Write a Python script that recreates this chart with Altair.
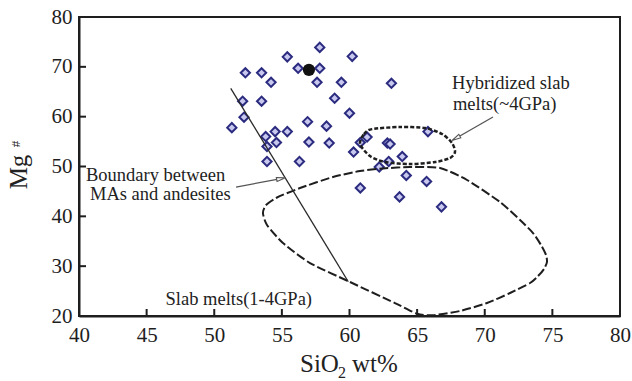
import altair as alt
import pandas as pd

# Whole-rock compositions: SiO2 (wt%) and Mg#
sio2 = [57.8, 55.4, 60.2, 56.2, 57.8, 52.3, 53.5, 54.2, 57.6, 59.4,
        63.1, 58.9, 52.1, 53.5, 52.2, 60.0, 51.3, 56.9, 58.3, 54.5,
        55.4, 53.8, 54.6, 53.9, 57.0, 58.5, 60.3, 53.9, 56.3, 61.3,
        60.8, 62.8, 63.0, 65.8, 63.9, 62.9, 62.2, 64.2, 65.7, 60.8,
        63.7, 66.8]
mg_no = [73.9, 72.0, 72.1, 69.7, 69.7, 68.8, 68.8, 66.9, 66.9, 66.9,
         66.7, 63.7, 63.1, 63.1, 59.9, 60.7, 57.8, 59.0, 58.1, 57.0,
         57.0, 56.0, 54.8, 54.0, 54.9, 54.7, 52.9, 51.0, 51.0, 55.9,
         54.8, 54.7, 54.5, 57.0, 52.0, 51.0, 49.9, 48.2, 47.0, 45.7,
         43.9, 41.9]

# Reference sample (filled circle)
ref_sio2 = [57.0]
ref_mg = [69.4]

# Slab melts (1-4 GPa) field outline
slab_x = [53.60, 53.83, 54.64, 56.34, 58.78, 60.78, 62.48, 64.47, 66.69,
          68.69, 71.13, 72.61, 73.57, 74.16, 74.53, 74.60, 74.38, 73.94,
          73.35, 71.87, 70.17, 68.17, 66.17, 65.00, 63.36, 60.04, 57.08,
          55.08, 53.90]
slab_y = [40.67, 42.27, 43.78, 45.68, 47.89, 49.09, 49.60, 49.90, 49.70,
          47.29, 42.87, 39.26, 36.65, 34.25, 32.24, 30.83, 29.43, 28.02,
          26.62, 24.61, 22.61, 21.00, 20.15, 20.45, 22.60, 26.82, 30.63,
          34.65, 38.26]

# Hybridized slab melts (~4 GPa) field outline
hyb_x = [60.78, 61.07, 61.66, 63.73, 65.58, 66.84, 67.58, 67.80, 67.43,
         66.32, 64.47, 62.62, 61.51]
hyb_y = [54.50, 56.50, 57.50, 57.93, 57.72, 56.52, 54.71, 52.91, 51.70,
         50.90, 50.50, 50.90, 52.10]

# Boundary between MAs and andesites
bound_x = [51.22, 59.91]
bound_y = [65.69, 26.88]

# Leader arrows: start, end
arrow_x1 = [51.61, 70.61]
arrow_y1 = [45.88, 59.93]
arrow_x2 = [54.94, 67.87]
arrow_y2 = [47.56, 55.66]
arrow_angle = [349.4, 150.1]

# Annotation labels
note_text = ["Boundary between", "MAs and andesites", "Hybridized slab",
             "melts(~4GPa)", "Slab melts(1-4GPa)"]
note_x = [40.52, 40.81, 67.58, 67.65, 46.40]
note_y = [47.00, 43.28, 65.55, 61.34, 22.30]

x_ticks = [40, 45, 50, 55, 60, 65, 70, 75, 80]
y_ticks = [20, 30, 40, 50, 60, 70, 80]

W, H = 541, 299
SERIF = "Liberation Serif"
INK = "#1e1e1e"

xs = alt.Scale(domain=[40, 80], nice=False, zero=False)
ys = alt.Scale(domain=[20, 80], nice=False, zero=False)

samples = pd.DataFrame({"sio2": sio2, "mg": mg_no})
ref = pd.DataFrame({"sio2": ref_sio2, "mg": ref_mg})
slab = pd.DataFrame({"x": slab_x, "y": slab_y, "i": range(len(slab_x))})
hyb = pd.DataFrame({"x": hyb_x, "y": hyb_y, "i": range(len(hyb_x))})
bound = pd.DataFrame({"x": bound_x, "y": bound_y})
arrows = pd.DataFrame({"x": arrow_x1, "y": arrow_y1, "x2": arrow_x2,
                       "y2": arrow_y2, "a": arrow_angle})
notes = pd.DataFrame({"t": note_text, "x": note_x, "y": note_y})
xt = pd.DataFrame({"v": x_ticks[1:-1]})
yt = pd.DataFrame({"v": y_ticks[1:-1]})

axis_common = dict(labelFont=SERIF, labelFontSize=21, labelColor=INK,
                   domainColor=INK, domainWidth=2, ticks=False, grid=False,
                   labelFlush=False, title=None)

points = alt.Chart(samples).mark_point(
    shape="diamond", size=85, filled=True, fill="#c8c8ee",
    stroke="#2b2b80", strokeWidth=2, opacity=1
).encode(
    x=alt.X("sio2:Q", scale=xs,
            axis=alt.Axis(values=x_ticks, labelPadding=8, **axis_common)),
    y=alt.Y("mg:Q", scale=ys,
            axis=alt.Axis(values=y_ticks, labelPadding=7, **axis_common)),
)

ref_pt = alt.Chart(ref).mark_point(
    shape="circle", size=150, filled=True, fill="#111111", opacity=1
).encode(x=alt.X("sio2:Q", scale=xs), y=alt.Y("mg:Q", scale=ys))

slab_line = alt.Chart(slab).mark_line(
    interpolate="cardinal-closed", tension=0.35, color=INK, strokeWidth=2,
    strokeDash=[9, 3]
).encode(x=alt.X("x:Q", scale=xs), y=alt.Y("y:Q", scale=ys), order="i:Q")

hyb_line = alt.Chart(hyb).mark_line(
    interpolate="cardinal-closed", tension=0.2, color=INK, strokeWidth=2.5,
    strokeDash=[4, 2]
).encode(x=alt.X("x:Q", scale=xs), y=alt.Y("y:Q", scale=ys), order="i:Q")

bound_line = alt.Chart(bound).mark_line(color="#2a2a2a", strokeWidth=1.3).encode(
    x=alt.X("x:Q", scale=xs), y=alt.Y("y:Q", scale=ys))

arrow_lines = alt.Chart(arrows).mark_rule(color="#555555", strokeWidth=1.3).encode(
    x=alt.X("x:Q", scale=xs), y=alt.Y("y:Q", scale=ys), x2="x2:Q", y2="y2:Q")

arrow_heads = alt.Chart(arrows).mark_point(
    shape="M-1,-0.45L1,0L-1,0.45Z", size=80, filled=True, fill="white",
    stroke="#555555", strokeWidth=1.1, opacity=1
).encode(x=alt.X("x2:Q", scale=xs), y=alt.Y("y2:Q", scale=ys),
         angle=alt.Angle("a:Q", scale=None))

labels = alt.Chart(notes).mark_text(
    font=SERIF, fontSize=18.5, color="#222222", align="left",
    baseline="alphabetic"
).encode(x=alt.X("x:Q", scale=xs), y=alt.Y("y:Q", scale=ys), text="t:N")

# Inward tick marks
x_tick_marks = alt.Chart(xt).mark_rule(color=INK, strokeWidth=2).encode(
    x=alt.X("v:Q", scale=xs), y=alt.value(H), y2=alt.value(H - 7))
y_tick_marks = alt.Chart(yt).mark_rule(color=INK, strokeWidth=2).encode(
    y=alt.Y("v:Q", scale=ys), x=alt.value(0), x2=alt.value(7))

# Axis titles with sub/superscripts
def txt(s, x, y, size, angle=0, align="left", baseline="alphabetic"):
    kw = dict(font=SERIF, fontSize=size, color="#222222", align=align,
              baseline=baseline, text=s)
    if angle:
        kw["angle"] = angle
    return alt.Chart(pd.DataFrame({"k": [0]})).mark_text(**kw).encode(
        x=alt.value(x), y=alt.value(y))

x_title = (txt("SiO", 221, 355, 25) + txt("2", 259, 361, 16)
           + txt("wt%", 273, 355, 25))
y_title = (txt("Mg", -52, 155, 25, angle=270, align="center")
           + txt("#", -63, 127, 13, angle=270, align="center",
                 baseline="middle"))

chart = alt.layer(
    points, slab_line, hyb_line, bound_line, arrow_lines, arrow_heads,
    x_tick_marks, y_tick_marks, labels, ref_pt, x_title, y_title
).properties(
    width=W, height=H,
    autosize=alt.AutoSizeParams(type="none"),
    padding={"left": 79, "top": 17, "right": 12, "bottom": 65},
    background="white",
).configure_view(stroke=INK, strokeWidth=2)

chart.save("out.html", embed_options={"renderer": "svg", "actions": False})
